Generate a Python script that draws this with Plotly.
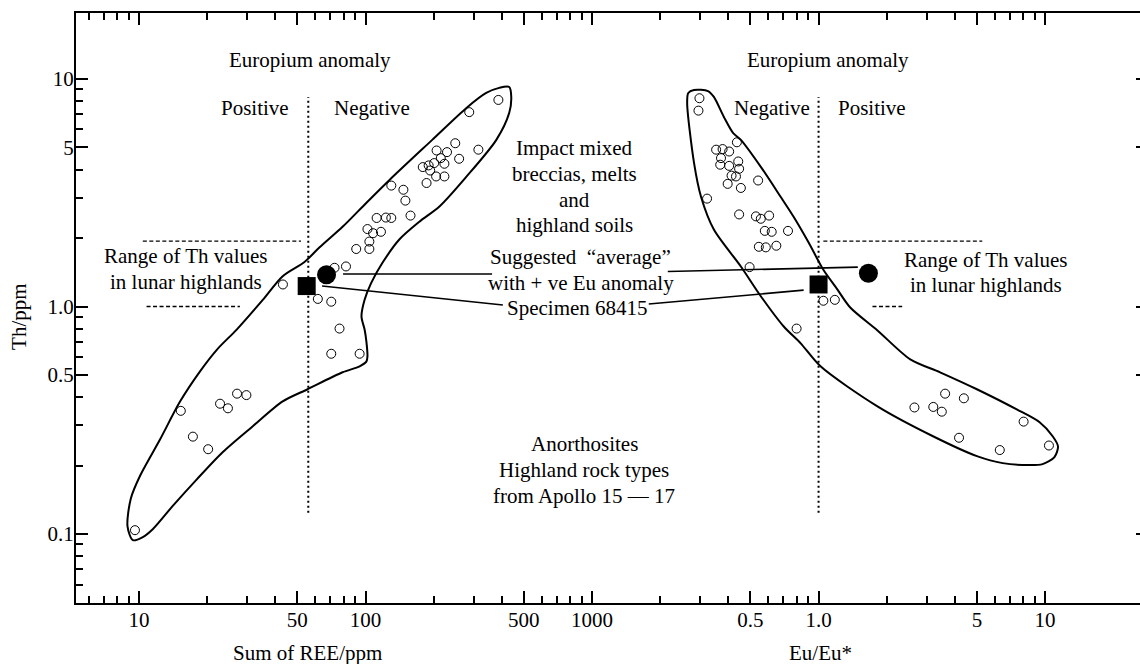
import math
import plotly.graph_objects as go

lg = math.log10

# ---------------- data ----------------
# Left panel: Sum of REE (ppm) vs Th (ppm)
ree_sum = [386, 287, 249, 315, 206, 229, 215, 259, 201, 223, 179, 190, 193, 205, 223,
           186, 130, 147, 150, 158, 112, 123, 130, 102, 108, 117, 91, 104, 104, 82,
           73, 61.6, 70.6, 76.8, 70.6, 94.2, 43.2, 9.6, 15.3, 17.3, 20.2, 22.8, 24.7,
           27.1, 29.8]
th_ree = [8.09, 7.15, 5.22, 4.89, 4.85, 4.77, 4.49, 4.46, 4.27, 4.24, 4.10, 4.17, 3.96,
          3.73, 3.73, 3.49, 3.40, 3.26, 2.92, 2.51, 2.45, 2.46, 2.45, 2.19, 2.10, 2.13,
          1.79, 1.93, 1.79, 1.50, 1.48, 1.08, 1.05, 0.80, 0.62, 0.62, 1.25, 0.104, 0.348,
          0.268, 0.236, 0.374, 0.357, 0.414, 0.408]

# Right panel: Eu/Eu* vs Th (ppm)
eu_ratio = [0.298, 0.295, 0.436, 0.353, 0.377, 0.403, 0.371, 0.442, 0.368, 0.403, 0.446,
            0.413, 0.432, 0.397, 0.454, 0.541, 0.322, 0.446, 0.529, 0.556, 0.605, 0.579,
            0.621, 0.733, 0.545, 0.585, 0.651, 0.496, 1.05, 1.18, 0.80, 2.65, 3.21, 3.50,
            3.62, 4.38, 4.17, 6.31, 8.04, 10.4]
th_eu = [8.23, 7.26, 5.27, 4.89, 4.92, 4.80, 4.49, 4.34, 4.20, 4.15, 4.03, 3.76, 3.73,
         3.46, 3.32, 3.58, 2.98, 2.54, 2.49, 2.43, 2.51, 2.15, 2.13, 2.15, 1.83, 1.82,
         1.85, 1.49, 1.06, 1.07, 0.80, 0.360, 0.362, 0.345, 0.414, 0.395, 0.265, 0.234,
         0.312, 0.245]

# Field envelopes
env_left_ree = [9.4, 8.9, 9.2, 10.1, 12.4, 15.2, 18.6, 22.1, 27.0, 35.2, 43.1, 53.8, 62.7,
                79.2, 101, 128, 197, 279, 341, 389, 431, 440, 431, 378, 279, 212, 173, 141,
                119, 106, 99.1, 96.0, 99.1, 101, 102, 101, 94.2, 79.2, 55.5, 43.1, 31.8,
                23.4, 18.0, 14.1, 11.5, 10.4, 9.4]
env_left_th = [0.094, 0.108, 0.143, 0.180, 0.261, 0.383, 0.519, 0.647, 0.792, 1.07, 1.36,
               1.57, 1.82, 2.24, 2.86, 3.61, 5.40, 7.46, 8.68, 9.14, 9.22, 8.34, 7.10, 5.40,
               3.72, 2.75, 2.36, 1.97, 1.56, 1.27, 1.07, 0.904, 0.792, 0.695, 0.604, 0.574,
               0.546, 0.514, 0.433, 0.383, 0.298, 0.229, 0.174, 0.133, 0.105, 0.097, 0.094]
env_right_eu = [0.266, 0.282, 0.325, 0.345, 0.382, 0.419, 0.454, 0.556, 0.681, 0.776, 0.904,
                1.05, 1.21, 1.38, 1.82, 2.54, 3.44, 5.00, 7.50, 9.46, 10.8, 11.4, 11.0, 9.75,
                8.55, 6.50, 5.00, 3.20, 1.82, 1.02, 0.834, 0.702, 0.556, 0.454, 0.345, 0.303,
                0.282, 0.263, 0.266]
env_right_th = [8.68, 8.95, 8.85, 8.34, 6.81, 5.80, 5.40, 4.11, 3.03, 2.48, 1.91, 1.45, 1.19,
                0.99, 0.785, 0.586, 0.514, 0.433, 0.353, 0.310, 0.269, 0.243, 0.218, 0.203,
                0.201, 0.205, 0.220, 0.269, 0.364, 0.546, 0.689, 0.817, 1.11, 1.50, 2.18,
                3.03, 4.28, 7.85, 8.68]

# Specimen 68415 and suggested "average"
specimen_ree, specimen_th_ree = [55.0], [1.23]
specimen_eu, specimen_th_eu = [1.0], [1.25]
average_ree, average_th_ree = [67.3], [1.38]
average_eu, average_th_eu = [1.66], [1.40]

# Reference lines (data units)
eu_boundary_ree = 55.9          # dotted divider, left panel
eu_boundary_eu = 1.0            # dotted divider, right panel
divider_th = [0.124, 8.34]
th_range_hi, th_range_lo = 1.94, 1.0
range_hi_ree = [10.4, 51.9]
range_lo_ree = [10.8, 27.9]
range_hi_eu = [1.05, 5.28]
range_lo_eu = [1.73, 2.34]

# Leader lines
avg_leader_ree, avg_leader_th_l = [79.6, 362], [1.39, 1.39]
avg_leader_eu, avg_leader_th_r = [0.216, 1.49], [1.425, 1.49]
spec_leader_ree, spec_leader_th_l = [64.3, 404], [1.23, 1.015]
spec_leader_eu, spec_leader_th_r = [0.178, 0.859], [1.026, 1.18]

# Axes
x_range_log = [0.722, 5.419]      # in Sum-of-REE units
eu_offset_log = 4                 # Eu/Eu* = 1 sits where REE = 10 000
y_range_log = [-1.303, 1.290]
ree_ticks = [10, 50, 100, 500, 1000]
ree_tick_text = ["10", "50", "100", "500", "1000"]
ree_minor = [6, 7, 8, 9, 20, 30, 40, 60, 70, 80, 90, 200, 300, 400, 600, 700, 800, 900]
eu_ticks = [0.5, 1.0, 5, 10]
eu_tick_text = ["0.5", "1.0", "5", "10"]
eu_minor = [0.2, 0.3, 0.4, 0.6, 0.7, 0.8, 0.9, 2, 3, 4, 6, 7, 8, 9]
th_ticks = [0.1, 0.5, 1.0, 5, 10]
th_tick_text = ["0.1", "0.5", "1.0", "5", "10"]
th_minor = [0.06, 0.07, 0.08, 0.09, 0.2, 0.3, 0.4, 0.6, 0.7, 0.8, 0.9, 2, 3, 4, 6, 7, 8, 9]

# ---------------- figure ----------------
FONT = dict(family="Liberation Serif, Times New Roman, serif", size=21, color="black")
BLACK = "black"
LINE_GAP = 25.7   # px between stacked text lines

fig = go.Figure()

def line(x, y, xa="x", width=1.5, dash="solid", shape="linear"):
    fig.add_trace(go.Scatter(x=x, y=y, xaxis=xa, yaxis="y", mode="lines",
                             line=dict(color=BLACK, width=width, dash=dash, shape=shape,
                                       smoothing=0.8),
                             hoverinfo="skip"))

# envelopes
line(env_left_ree, env_left_th, "x", 2, shape="spline")
line(env_right_eu, env_right_th, "x2", 2, shape="spline")

# dotted dividers
line([eu_boundary_ree] * 2, divider_th, "x", 2, dash="2px,3px")
line([eu_boundary_eu] * 2, divider_th, "x2", 2, dash="2px,3px")

# Th range dashed lines
line(range_hi_ree, [th_range_hi] * 2, "x", 1.3, dash="4px,2.5px")
line(range_lo_ree, [th_range_lo] * 2, "x", 1.3, dash="4px,2.5px")
line(range_hi_eu, [th_range_hi] * 2, "x2", 1.3, dash="4px,2.5px")
line(range_lo_eu, [th_range_lo] * 2, "x2", 1.3, dash="4px,2.5px")

# leader lines
line(avg_leader_ree, avg_leader_th_l, "x", 1.6)
line(avg_leader_eu, avg_leader_th_r, "x2", 1.6)
line(spec_leader_ree, spec_leader_th_l, "x", 1.6)
line(spec_leader_eu, spec_leader_th_r, "x2", 1.6)

# sample points
open_marker = dict(symbol="circle-open", size=9, color=BLACK, line=dict(width=1, color=BLACK))
fig.add_trace(go.Scatter(x=ree_sum, y=th_ree, xaxis="x", yaxis="y", mode="markers",
                         marker=open_marker))
fig.add_trace(go.Scatter(x=eu_ratio, y=th_eu, xaxis="x2", yaxis="y", mode="markers",
                         marker=open_marker))

# specimen squares and average circles
fig.add_trace(go.Scatter(x=specimen_ree, y=specimen_th_ree, xaxis="x", yaxis="y",
                         mode="markers", marker=dict(symbol="square", size=18, color=BLACK)))
fig.add_trace(go.Scatter(x=specimen_eu, y=specimen_th_eu, xaxis="x2", yaxis="y",
                         mode="markers", marker=dict(symbol="square", size=18, color=BLACK)))
fig.add_trace(go.Scatter(x=average_ree, y=average_th_ree, xaxis="x", yaxis="y",
                         mode="markers", marker=dict(symbol="circle", size=19, color=BLACK)))
fig.add_trace(go.Scatter(x=average_eu, y=average_th_eu, xaxis="x2", yaxis="y",
                         mode="markers", marker=dict(symbol="circle", size=19, color=BLACK)))

# helper trace for the right-hand tick stubs
fig.add_trace(go.Scatter(x=[None], y=[None], xaxis="x", yaxis="y2", mode="markers",
                         showlegend=False, hoverinfo="skip"))

# ---------------- annotations ----------------
def note(text, x, y, xref="x"):
    lines = text.split("\n")
    n = len(lines)
    for i, t in enumerate(lines):
        fig.add_annotation(text=t, x=lg(x), y=lg(y), xref=xref, yref="y",
                           yshift=((n - 1) / 2 - i) * LINE_GAP,
                           showarrow=False, font=FONT, align="center",
                           xanchor="center", yanchor="middle")

note("Europium anomaly", 57, 12.1)
note("Europium anomaly", 1.10, 12.1, "x2")
note("Positive", 32.4, 7.46)
note("Negative", 107, 7.46)
note("Negative", 0.624, 7.46, "x2")
note("Positive", 1.72, 7.46, "x2")
note("Range of Th values\nin lunar highlands", 16.1, 1.46)
note("Range of Th values\nin lunar highlands", 5.5, 1.41, "x2")
note("Impact mixed\nbreccias, melts\nand\nhighland soils", 833, 3.36)
note("Suggested  “average”\nwith + ve Eu anomaly", 893, 1.445)
note("Specimen 68415", 859, 0.985)
note("Anorthosites\nHighland rock types\nfrom Apollo 15 — 17", 923, 0.191)

# axis titles
fig.add_annotation(text="Sum of REE/ppm", x=lg(55.7), xref="x", y=0, yref="paper",
                   yshift=-50, showarrow=False, font=FONT, yanchor="middle")
fig.add_annotation(text="Eu/Eu*", x=lg(1.02), xref="x2", y=0, yref="paper",
                   yshift=-50, showarrow=False, font=FONT, yanchor="middle")
fig.add_annotation(text="Th/ppm", x=0, xref="paper", xshift=-57, y=lg(0.9), yref="y",
                   textangle=-90, showarrow=False, font=FONT, xanchor="center")

axis_common = dict(type="log", showgrid=False, zeroline=False, automargin=False,
                   tickfont=FONT, tickcolor=BLACK, ticks="inside")

fig.update_layout(
    width=1140, height=664,
    margin=dict(l=76, r=0, t=13, b=61, pad=0),
    paper_bgcolor="white", plot_bgcolor="white",
    showlegend=False,
    font=FONT,
    xaxis=dict(axis_common, range=x_range_log, domain=[0, 1], anchor="y",
               tickmode="array", tickvals=ree_ticks, ticktext=ree_tick_text,
               ticklen=12, tickwidth=2, ticklabelstandoff=-3,
               minor=dict(tickmode="array", tickvals=ree_minor, ticks="inside",
                          ticklen=7, tickwidth=1.5, tickcolor=BLACK, showgrid=False),
               showline=True, linewidth=2, linecolor=BLACK, mirror="ticks"),
    xaxis2=dict(axis_common, overlaying="x", side="bottom", anchor="y",
                range=[x_range_log[0] - eu_offset_log, x_range_log[1] - eu_offset_log],
                tickmode="array", tickvals=eu_ticks, ticktext=eu_tick_text,
                ticklen=12, tickwidth=2, ticklabelstandoff=-3,
                minor=dict(tickmode="array", tickvals=eu_minor, ticks="inside",
                           ticklen=7, tickwidth=1.5, tickcolor=BLACK, showgrid=False),
                showline=True, linewidth=2, linecolor=BLACK, mirror="ticks"),
    yaxis=dict(axis_common, range=y_range_log, domain=[0, 1], anchor="x",
               tickmode="array", tickvals=th_ticks, ticktext=th_tick_text,
               ticklen=12, tickwidth=2, ticklabelstandoff=-4,
               minor=dict(tickmode="array", tickvals=th_minor, ticks="inside",
                          ticklen=7, tickwidth=1.5, tickcolor=BLACK, showgrid=False),
               showline=True, linewidth=2, linecolor=BLACK, mirror=False),
    yaxis2=dict(axis_common, overlaying="y", side="right", anchor="x",
                range=y_range_log, tickmode="array", tickvals=th_ticks,
                showticklabels=False, ticklen=4, tickwidth=1.5, showline=False),
)

fig.write_html("out.html")
